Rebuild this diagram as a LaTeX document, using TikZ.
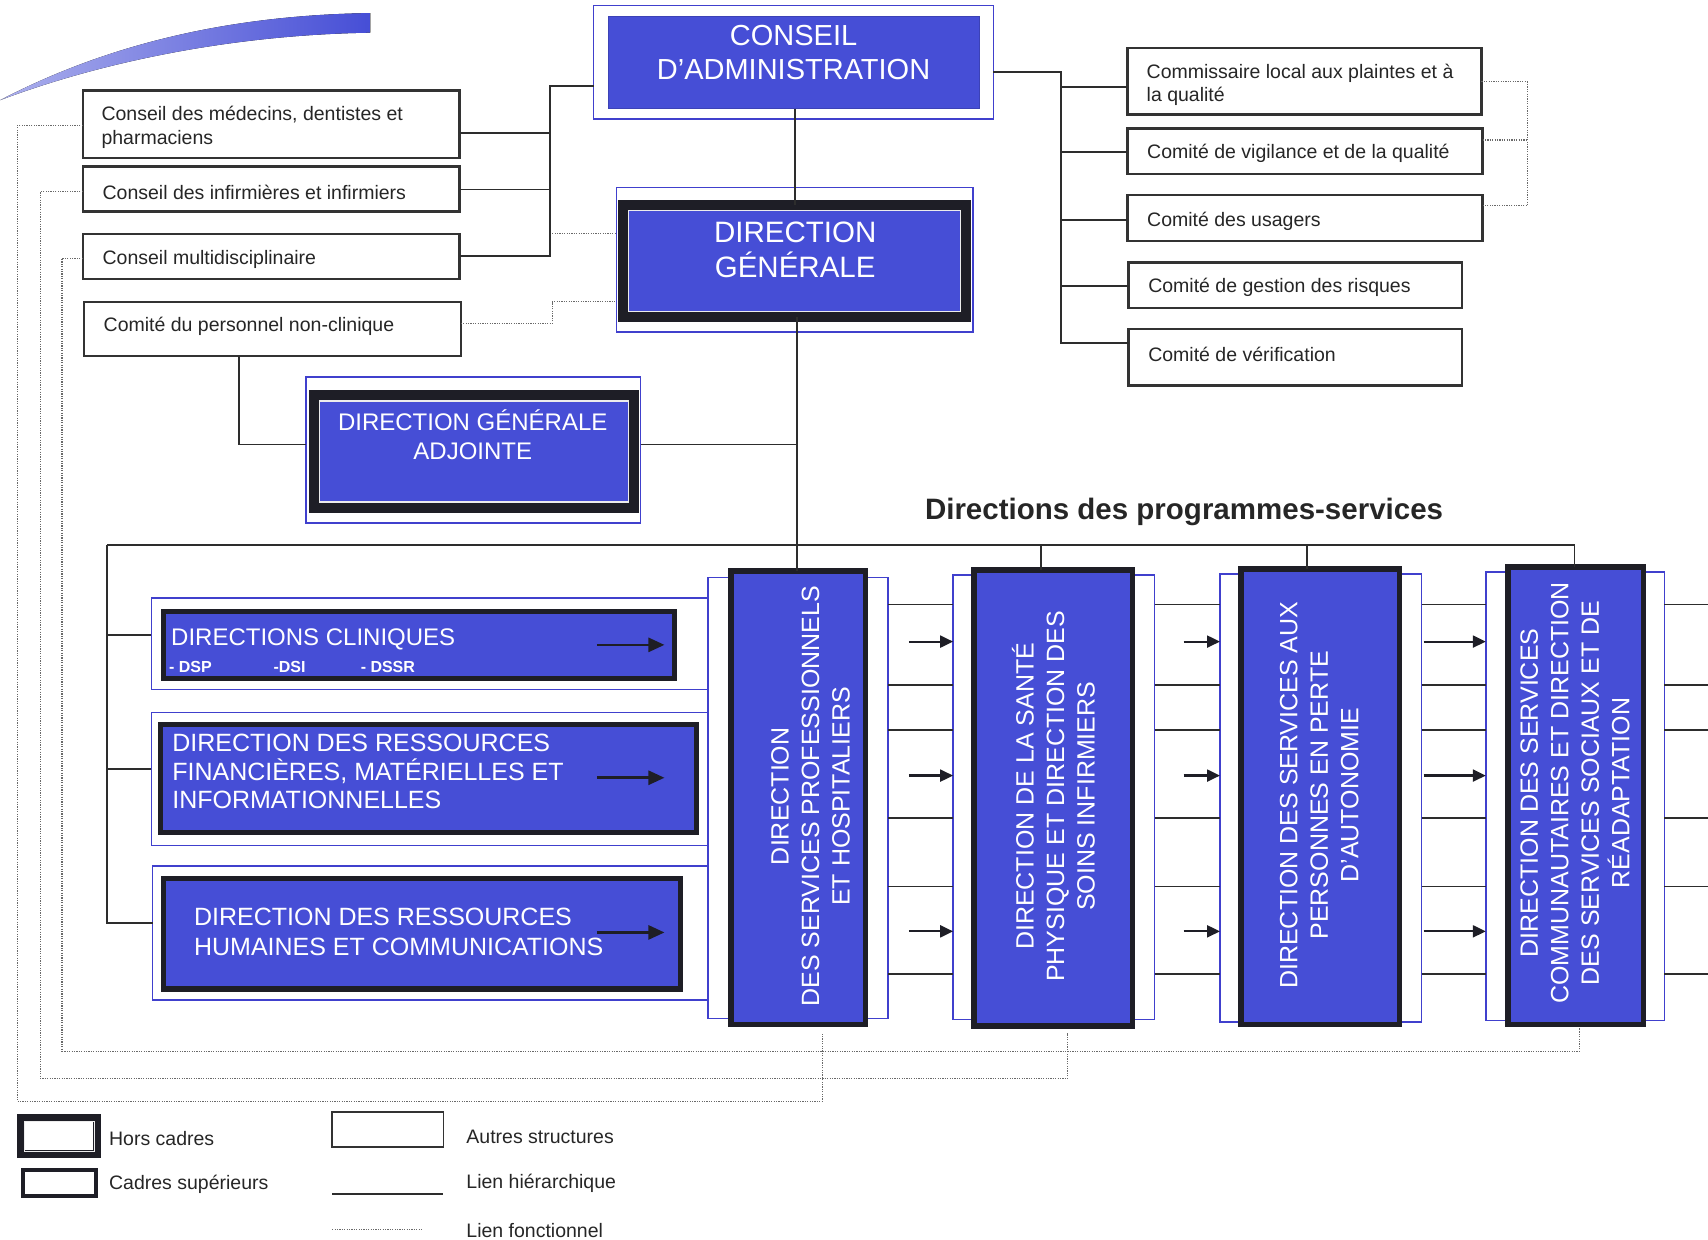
\documentclass[tikz,border=0pt]{standalone}
\usepackage{fontspec}
\setmainfont{Liberation Sans}
\usetikzlibrary{fit,arrows.meta}
\definecolor{boxblue}{RGB}{70,78,214}
\definecolor{edgeblue}{RGB}{64,64,205}
\definecolor{darkline}{RGB}{30,30,38}
\definecolor{lineblack}{RGB}{45,45,45}
\definecolor{dotgray}{RGB}{105,105,105}
\newcommand\myfs[2]{\fontsize{#1}{#2}\selectfont}
\newcommand\mkbox[6]{\node[#6, fit={(#2,#3) (#4,#5)}] (#1) {};}
\tikzset{
 box/.style={rectangle, inner sep=0pt, outer sep=0pt},
 wbox/.style={box, draw=black!80, line width=2.4pt, fill=white},
 bedge/.style={box, draw=edgeblue, line width=1.6pt, fill=white},
 dbox/.style={box, draw=darkline, line width=5.5pt, fill=boxblue},
 hbox/.style={box, draw=darkline, line width=10pt, fill=boxblue},
 hier/.style={draw=lineblack, line width=1.8pt},
 fn/.style={draw=dotgray, line width=1.2pt, dash pattern=on 1.2pt off 1.2pt},
 wtxt/.style={text=white, inner sep=0pt},
 ktxt/.style={text=black!85, inner sep=0pt, align=left, anchor=west},
 arr/.style={draw=darkline, line width=2.2pt, -{Triangle[length=13pt,width=12pt]}},
}
\begin{document}
\begin{tikzpicture}[x=1.0893pt,y=-1.0893pt]
\useasboundingbox (0,0) rectangle (1568,1138);
% swoosh
\fill[left color=boxblue!45, right color=boxblue] (0,92) .. controls (90,45) and (200,14) .. (340,12) -- (340,30) .. controls (210,32) and (90,58) .. (0,92) -- cycle;

% ---------- top: conseil d'administration
\mkbox{cao}{545}{5}{912}{109}{bedge}
\mkbox{ca}{559}{15}{899}{100}{box, fill=boxblue, draw=boxblue!85!black, line width=1pt}
\node[wtxt, align=center, font=\myfs{29}{34}] (catxt) at (728.5,48) {CONSEIL\\D’ADMINISTRATION};

% ---------- direction generale
\mkbox{dgo}{566}{172}{893}{305}{bedge}
\mkbox{dg}{572}{188}{887}{291}{hbox}
\draw[white!85!gray, line width=1.2pt] ([shift={(5.2,5.2)}]dg.north west) rectangle ([shift={(-5.2,-5.2)}]dg.south east);
\node[wtxt, align=center, font=\myfs{29.5}{35}] (dgtxt) at (730,229) {DIRECTION\\GÉNÉRALE};

% ---------- direction generale adjointe
\mkbox{dgao}{281}{346}{588}{480}{bedge}
\mkbox{dga}{288}{363}{582}{466}{hbox}
\draw[white!85!gray, line width=1.2pt] ([shift={(5.2,5.2)}]dga.north west) rectangle ([shift={(-5.2,-5.2)}]dga.south east);
\node[wtxt, align=center, font=\myfs{24}{29}] (dgatxt) at (434,399) {DIRECTION GÉNÉRALE\\ADJOINTE};

% ---------- left conseils
\mkbox{cm}{76}{83}{422}{145}{wbox}
\mkbox{ci}{76}{153}{422}{194}{wbox}
\mkbox{cmu}{76}{215}{422}{256}{wbox}
\mkbox{cnc}{77}{277}{423}{327}{wbox}
\node[ktxt, font=\myfs{19.5}{24}] (cmt) at (93,117) {Conseil des médecins, dentistes et\\pharmaciens};
\node[ktxt, font=\myfs{19.5}{24}] (cit) at (94,177) {Conseil des infirmières et infirmiers};
\node[ktxt, font=\myfs{19.5}{24}] (cmut) at (94,238) {Conseil multidisciplinaire};
\node[ktxt, font=\myfs{19.5}{24}] (cnct) at (95,300) {Comité du personnel non-clinique};

% ---------- right comites
\mkbox{r1}{1035}{44}{1360}{105}{wbox}
\mkbox{r2}{1035}{118}{1361}{160}{wbox}
\mkbox{r3}{1035}{179}{1361}{221}{wbox}
\mkbox{r4}{1036}{241}{1342}{283}{wbox}
\mkbox{r5}{1036}{302}{1342}{354}{wbox}
\node[ktxt, font=\myfs{19.5}{23}] (r1t) at (1052.5,78) {Commissaire local aux plaintes et à\\la qualité};
\node[ktxt, font=\myfs{19.5}{23}] (r2t) at (1053,141) {Comité de vigilance et de la qualité};
\node[ktxt, font=\myfs{19.5}{23}] (r3t) at (1053,203) {Comité des usagers};
\node[ktxt, font=\myfs{19.5}{23}] (r4t) at (1054,264) {Comité de gestion des risques};
\node[ktxt, font=\myfs{19.5}{23}] (r5t) at (1054,325) {Comité de vérification};

% ---------- heading
\node[anchor=west, inner sep=0pt, text=black!85, font=\bfseries\myfs{29.5}{34}] (head) at (849,470) {Directions des programmes-services};

% ---------- left blue directions
\mkbox{dco}{139}{549}{651}{633}{bedge}
\mkbox{dc}{150.3}{561.3}{619.2}{622.7}{dbox}
\mkbox{drfo}{139}{654}{651}{776}{bedge}
\mkbox{drf}{147.3}{665}{639.2}{764.2}{dbox}
\mkbox{drho}{140}{795}{651}{918}{bedge}
\mkbox{drh}{150.3}{806.3}{624.7}{907.7}{dbox}
\node[wtxt, anchor=west, font=\myfs{24}{28}] (dct) at (157,587) {DIRECTIONS CLINIQUES};
\node[wtxt, anchor=west, font=\bfseries\myfs{16}{19}] (dcs1) at (155,612) {- DSP};
\node[wtxt, anchor=west, font=\bfseries\myfs{16}{19}] (dcs2) at (251,612) {-DSI};
\node[wtxt, anchor=west, font=\bfseries\myfs{16}{19}] (dcs3) at (331,612) {- DSSR};
\node[wtxt, anchor=west, align=left, font=\myfs{25}{28.6}] (drft) at (158,708.5) {DIRECTION DES RESSOURCES\\FINANCIÈRES, MATÉRIELLES ET\\INFORMATIONNELLES};
\node[wtxt, anchor=west, align=left, font=\myfs{25}{29.4}] (drht) at (178,855.5) {DIRECTION DES RESSOURCES\\HUMAINES ET COMMUNICATIONS};
\coordinate (ka1) at (548,592); \coordinate (kb1) at (610,592);
\coordinate (ka2) at (548,714); \coordinate (kb2) at (610,714);
\coordinate (ka3) at (548,856); \coordinate (kb3) at (610,856);
\draw[arr, line width=2.6pt, -{Triangle[length=16pt,width=14pt]}] (ka1) -- (kb1);
\draw[arr, line width=2.6pt, -{Triangle[length=16pt,width=14pt]}] (ka2) -- (kb2);
\draw[arr, line width=2.6pt, -{Triangle[length=16pt,width=14pt]}] (ka3) -- (kb3);

% ---------- vertical directions
\mkbox{v1o}{650}{530}{815}{935}{bedge}
\mkbox{v1}{671.3}{524.3}{794.7}{940.7}{dbox}
\mkbox{v2o}{875}{528}{1060}{936}{bedge}
\mkbox{v2}{894.3}{523.3}{1039.7}{941.7}{dbox}
\mkbox{v3o}{1120}{527}{1305}{938}{bedge}
\mkbox{v3}{1139.3}{522.3}{1284.7}{940.7}{dbox}
\mkbox{v4o}{1364}{525}{1528}{937}{bedge}
\mkbox{v4}{1384.3}{520.3}{1508.7}{940.7}{dbox}
\node[wtxt, rotate=90, align=center, font=\myfs{25}{30.5}] (v1t) at (744,731) {DIRECTION\\DES SERVICES PROFESSIONNELS\\ET HOSPITALIERS};
\node[wtxt, rotate=90, align=center, font=\myfs{25}{30.5}] (v2t) at (967,731) {DIRECTION DE LA SANTÉ\\PHYSIQUE ET DIRECTION DES\\SOINS INFIRMIERS};
\node[wtxt, rotate=90, align=center, font=\myfs{25}{30.5}] (v3t) at (1211,730) {DIRECTION DES SERVICES AUX\\PERSONNES EN PERTE\\D’AUTONOMIE};
\node[wtxt, rotate=90, align=center, font=\myfs{25}{30.5}] (v4t) at (1446,728) {DIRECTION DES SERVICES\\COMMUNAUTAIRES ET DIRECTION\\DES SERVICES SOCIAUX ET DE\\RÉADAPTATION};

% ---------- hierarchical links
\coordinate (xc) at (730,0);
\coordinate (xc2) at (731.5,0);
\draw[hier] (ca.south -| xc) -- (dg.north -| xc);
\draw[hier] (dg.south -| xc2) -- (v1.north -| xc2);
\coordinate (jl1) at (505,79); \coordinate (jl2) at (505,235);
\coordinate (a1) at (505,122); \coordinate (a2) at (505,174);
\draw[hier] (cao.west |- jl1) -- (jl1) -- (jl2) -- (cmu.east |- jl2);
\draw[hier] (cm.east |- a1) -- (a1);
\draw[hier] (ci.east |- a2) -- (a2);
\coordinate (jr1) at (974,66); \coordinate (jr5) at (974,315);
\draw[hier] (cao.east |- jr1) -- (jr1) -- (jr5) -- (r5.west |- jr5);
\coordinate (b1) at (974,80); \coordinate (b2) at (974,139.5);
\coordinate (b3) at (974,202); \coordinate (b4) at (974,262.5);
\draw[hier] (b1) -- (r1.west |- b1);
\draw[hier] (b2) -- (r2.west |- b2);
\draw[hier] (b3) -- (r3.west |- b3);
\draw[hier] (b4) -- (r4.west |- b4);
\coordinate (g1) at (219.5,408); \coordinate (g2) at (731.5,408);
\draw[hier] (cnc.south -| g1) -- (g1) -- (dgao.west |- g1);
\draw[hier] (dgao.east |- g2) -- (g2);
\coordinate (hL) at (98,500); \coordinate (hR) at (1445.5,500);
\coordinate (h2) at (956,500); \coordinate (h3) at (1200,500);
\coordinate (hB) at (98,847); \coordinate (hc1) at (98,583); \coordinate (hc2) at (98,706);
\draw[hier] (hL) -- (hR) -- (v4.north -| hR);
\draw[hier] (h2) -- (v2.north -| h2);
\draw[hier] (h3) -- (v3.north -| h3);
\draw[hier] (hL) -- (hB) -- (drho.west |- hB);
\draw[hier] (hc1) -- (dco.west |- hc1);
\draw[hier] (hc2) -- (drfo.west |- hc2);
\coordinate (edge) at (1568,0);
\foreach \yy in {555,629,670,751,814,894} {
  \coordinate (ry) at (0,\yy);
  \draw[hier, line width=1.6pt] (v1o.east |- ry) -- (v2o.west |- ry);
  \draw[hier, line width=1.6pt] (v2o.east |- ry) -- (v3o.west |- ry);
  \draw[hier, line width=1.6pt] (v3o.east |- ry) -- (v4o.west |- ry);
  \draw[hier, line width=1.6pt] (v4o.east |- ry) -- (edge |- ry);
}
\foreach \yy in {589,712,855} {
  \coordinate (ra) at (0,\yy);
  \draw[arr, shorten <=21pt] (v1o.east |- ra) -- (v2o.west |- ra);
  \draw[arr, shorten <=29pt] (v2o.east |- ra) -- (v3o.west |- ra);
  \draw[arr, shorten <=2pt] (v3o.east |- ra) -- (v4o.west |- ra);
}

% ---------- functional links
\coordinate (f1) at (507,214);
\draw[fn] (f1) -- (dgo.west |- f1);
\coordinate (f2) at (507,297); \coordinate (f3) at (507,277);
\draw[fn] (cnc.east |- f2) -- (f2) -- (f3) -- (dgo.west |- f3);
\coordinate (d1a) at (16,115); \coordinate (d1b) at (16,1011); \coordinate (d1c) at (755,1011);
\draw[fn, shorten >=9pt] (cm.west |- d1a) -- (d1a) -- (d1b) -- (d1c) -- (v1.south -| d1c);
\coordinate (d2a) at (37,176); \coordinate (d2b) at (37,990); \coordinate (d2c) at (980,990);
\draw[fn, shorten >=7pt] (ci.west |- d2a) -- (d2a) -- (d2b) -- (d2c) -- (v2.south -| d2c);
\coordinate (d3a) at (57,237); \coordinate (d3b) at (57,965); \coordinate (d3c) at (1450,965);
\draw[fn, shorten >=3pt] (cmu.west |- d3a) -- (d3a) -- (d3b) -- (d3c) -- (v4.south -| d3c);
\coordinate (e1) at (1402,75); \coordinate (e2) at (1402,128.5); \coordinate (e3) at (1402,189);
\draw[fn] (r1.east |- e1) -- (e1) -- (e3) -- (r3.east |- e3);
\draw[fn] (r2.east |- e2) -- (e2);

% ---------- legend
\mkbox{lhc}{19.7}{1026.7}{89.3}{1059.3}{box, draw=darkline, line width=8pt, fill=white}
\draw[white!85!gray, line width=1pt] ([shift={(2.6,2.6)}]lhc.north west) rectangle ([shift={(-2.6,-2.6)}]lhc.south east);
\node[ktxt, font=\myfs{19.5}{23}] (lhct) at (100,1045) {Hors cadres};
\mkbox{lcs}{21}{1074}{88}{1098}{box, draw=darkline, line width=4.5pt, fill=white}
\node[ktxt, font=\myfs{19.5}{23}] (lcst) at (100,1087) {Cadres supérieurs};
\mkbox{las}{305}{1021}{407}{1053}{box, draw=black!80, line width=1.6pt}
\node[ktxt, font=\myfs{19.5}{23}] (last) at (428,1044) {Autres structures};
\coordinate (lh1) at (305,1096); \coordinate (lh2) at (407,1096);
\draw[hier] (lh1) -- (lh2);
\node[ktxt, font=\myfs{19.5}{23}] (lht) at (428,1086) {Lien hiérarchique};
\coordinate (lf1) at (305,1129); \coordinate (lf2) at (387,1129);
\draw[fn] (lf1) -- (lf2);
\node[ktxt, font=\myfs{19.5}{23}] (lft) at (428,1130) {Lien fonctionnel};
\end{tikzpicture}
\end{document}
